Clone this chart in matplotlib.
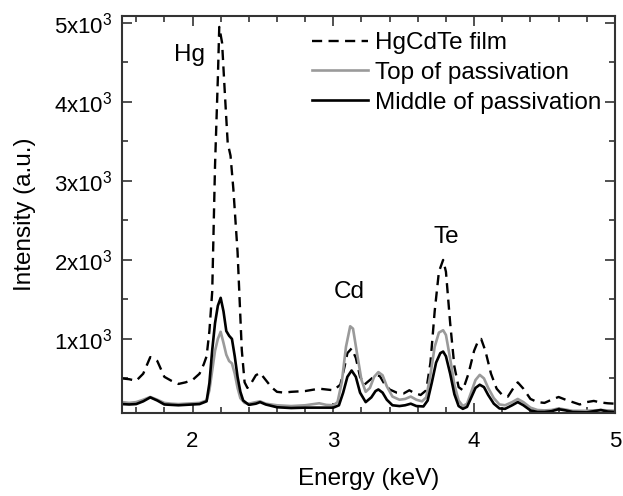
import matplotlib.pyplot as plt
from matplotlib.ticker import MultipleLocator, FixedLocator

plt.rcParams['font.family'] = ['Liberation Sans', 'DejaVu Sans']
plt.rcParams['mathtext.fontset'] = 'custom'
plt.rcParams['mathtext.rm'] = 'Liberation Sans'
plt.rcParams['mathtext.it'] = 'Liberation Sans'

# --- datos (energia en keV, intensidad en u.a.) ---
e_film = [1.50, 1.55, 1.60, 1.65, 1.70, 1.75, 1.80, 1.85, 1.90, 1.95, 2.00, 2.05,
          2.08, 2.10, 2.12, 2.14, 2.16, 2.18, 2.19, 2.21, 2.23, 2.25, 2.27, 2.29,
          2.32, 2.35, 2.37, 2.39, 2.42, 2.45, 2.48, 2.52, 2.56, 2.60, 2.65, 2.70,
          2.80, 2.90, 3.00, 3.05, 3.08, 3.10, 3.13, 3.16, 3.19, 3.22, 3.26, 3.30,
          3.33, 3.36, 3.40, 3.45, 3.50, 3.54, 3.57, 3.62, 3.66, 3.69, 3.72, 3.75,
          3.78, 3.80, 3.83, 3.86, 3.89, 3.92, 3.96, 4.00, 4.03, 4.05, 4.08, 4.12,
          4.16, 4.20, 4.24, 4.28, 4.31, 4.35, 4.40, 4.45, 4.50, 4.55, 4.60, 4.65,
          4.70, 4.75, 4.80, 4.85, 4.90, 4.95, 5.00]
i_film = [500, 490, 470, 560, 770, 720, 520, 470, 430, 450, 480, 560,
          680, 780, 1100, 1600, 3200, 4300, 4950, 4750, 4100, 3480, 3320, 2900,
          2100, 860, 450, 380, 450, 540, 570, 480, 390, 330, 320, 330,
          340, 370, 350, 420, 650, 820, 880, 760, 520, 420, 480, 540,
          530, 440, 360, 320, 310, 350, 320, 290, 350, 700, 1350, 1850,
          2000, 1850, 1200, 650, 390, 350, 560, 850, 980, 1000, 850, 560,
          370, 290, 270, 380, 450, 370, 240, 200, 190, 230, 265, 230,
          200, 170, 200, 215, 195, 185, 180]

e_top = [1.50, 1.55, 1.60, 1.65, 1.70, 1.75, 1.80, 1.85, 1.90, 1.95, 2.00, 2.05,
         2.10, 2.12, 2.14, 2.16, 2.18, 2.20, 2.22, 2.24, 2.26, 2.28, 2.30, 2.32,
         2.34, 2.37, 2.40, 2.45, 2.48, 2.52, 2.60, 2.70, 2.80, 2.90, 2.95, 3.00,
         3.03, 3.06, 3.09, 3.12, 3.14, 3.17, 3.20, 3.23, 3.26, 3.29, 3.32, 3.35,
         3.38, 3.42, 3.47, 3.51, 3.55, 3.59, 3.63, 3.66, 3.69, 3.72, 3.75, 3.78,
         3.80, 3.83, 3.86, 3.89, 3.92, 3.95, 3.98, 4.01, 4.04, 4.07, 4.10, 4.14,
         4.18, 4.22, 4.27, 4.31, 4.35, 4.40, 4.45, 4.50, 4.55, 4.60, 4.65, 4.70,
         4.80, 4.90, 5.00]
i_top = [200, 190, 200, 230, 265, 230, 190, 180, 175, 180, 185, 190,
         220, 350, 600, 850, 1000, 1090, 950, 800, 720, 690, 560, 380,
         250, 190, 180, 200, 210, 180, 160, 150, 160, 185, 165, 160,
         200, 450, 900, 1160, 1130, 800, 480, 330, 380, 520, 580, 540,
         400, 270, 230, 240, 270, 230, 210, 260, 550, 900, 1080, 1110,
         1050, 750, 420, 220, 150, 180, 330, 480, 545, 500, 380, 250,
         170, 160, 200, 240, 200, 130, 100, 95, 100, 120, 105, 90,
         90, 100, 90]

e_mid = [1.50, 1.55, 1.60, 1.65, 1.70, 1.75, 1.80, 1.85, 1.90, 1.95, 2.00, 2.05,
         2.10, 2.12, 2.14, 2.16, 2.18, 2.20, 2.22, 2.24, 2.26, 2.28, 2.30, 2.32,
         2.34, 2.36, 2.40, 2.45, 2.48, 2.52, 2.60, 2.70, 2.80, 2.90, 3.00, 3.04,
         3.07, 3.10, 3.13, 3.16, 3.19, 3.23, 3.27, 3.30, 3.32, 3.35, 3.38, 3.42,
         3.47, 3.51, 3.55, 3.59, 3.64, 3.67, 3.70, 3.73, 3.76, 3.78, 3.80, 3.83,
         3.86, 3.89, 3.92, 3.95, 3.98, 4.01, 4.04, 4.07, 4.10, 4.14, 4.18, 4.22,
         4.27, 4.31, 4.35, 4.40, 4.45, 4.50, 4.55, 4.60, 4.65, 4.70, 4.80, 4.90,
         4.95, 5.00]
i_mid = [175, 170, 175, 210, 260, 220, 170, 165, 160, 165, 170, 175,
         210, 440, 860, 1200, 1420, 1520, 1350, 1100, 1040, 1000, 780, 520,
         330, 220, 165, 180, 200, 170, 135, 125, 130, 130, 130, 160,
         320, 520, 600, 520, 320, 200, 260, 340, 360, 320, 230, 160,
         150, 160, 180, 150, 145, 220, 450, 700, 820, 840, 780, 560,
         300, 150, 115, 140, 260, 380, 420, 390, 290, 180, 120, 115,
         160, 200, 160, 95, 75, 75, 85, 110, 95, 75, 70, 100,
         80, 75]

y_ticks = [1000, 2000, 3000, 4000, 5000]
y_labels = [r'1x10$^3$', r'2x10$^3$', r'3x10$^3$', r'4x10$^3$', r'5x10$^3$']

fig = plt.figure(figsize=(6.23, 4.96), dpi=100)
ax = fig.add_axes([0.196, 0.167, 0.791, 0.801])

ax.plot(e_film, i_film, color='black', lw=1.7, ls=(0, (4.3, 2.7)), label='HgCdTe film')
ax.plot(e_top, i_top, color='#9a9a9a', lw=1.9, label='Top of passivation')
ax.plot(e_mid, i_mid, color='black', lw=1.9, label='Middle of passivation')

ax.set_xlim(1.5, 5.0)
ax.set_ylim(60, 5090)

ax.xaxis.set_major_locator(FixedLocator([2, 3, 4, 5]))
ax.xaxis.set_minor_locator(MultipleLocator(0.2))
ax.yaxis.set_major_locator(FixedLocator(y_ticks))
ax.set_yticklabels(y_labels)
ax.yaxis.set_minor_locator(MultipleLocator(500))

ax.tick_params(which='both', direction='in', top=True, right=True,
               color='#333333', width=1.2, labelsize=16)
ax.tick_params(which='major', length=7)
ax.tick_params(which='minor', length=4)
ax.tick_params(axis='x', pad=13)
ax.tick_params(axis='y', pad=7)
for s in ax.spines.values():
    s.set_linewidth(1.5)
    s.set_color('#333333')

ax.set_xlabel('Energy (keV)', fontsize=17.5, labelpad=11)
ax.set_ylabel('Intensity (a.u.)', fontsize=17.5, labelpad=13)

# etiquetas de los picos
ax.text(1.98, 4600, 'Hg', fontsize=17.5, ha='center', va='center')
ax.text(3.11, 1600, 'Cd', fontsize=17.5, ha='center', va='center')
ax.text(3.80, 2290, 'Te', fontsize=17.5, ha='center', va='center')

ax.legend(loc='upper left', bbox_to_anchor=(312 / 623, 1 - 32 / 496),
          bbox_transform=fig.transFigure, frameon=False, fontsize=17.5,
          handlelength=2.3, handletextpad=0.3, labelspacing=0.32,
          borderpad=0, borderaxespad=0)

fig.savefig('out.png', dpi=100)
